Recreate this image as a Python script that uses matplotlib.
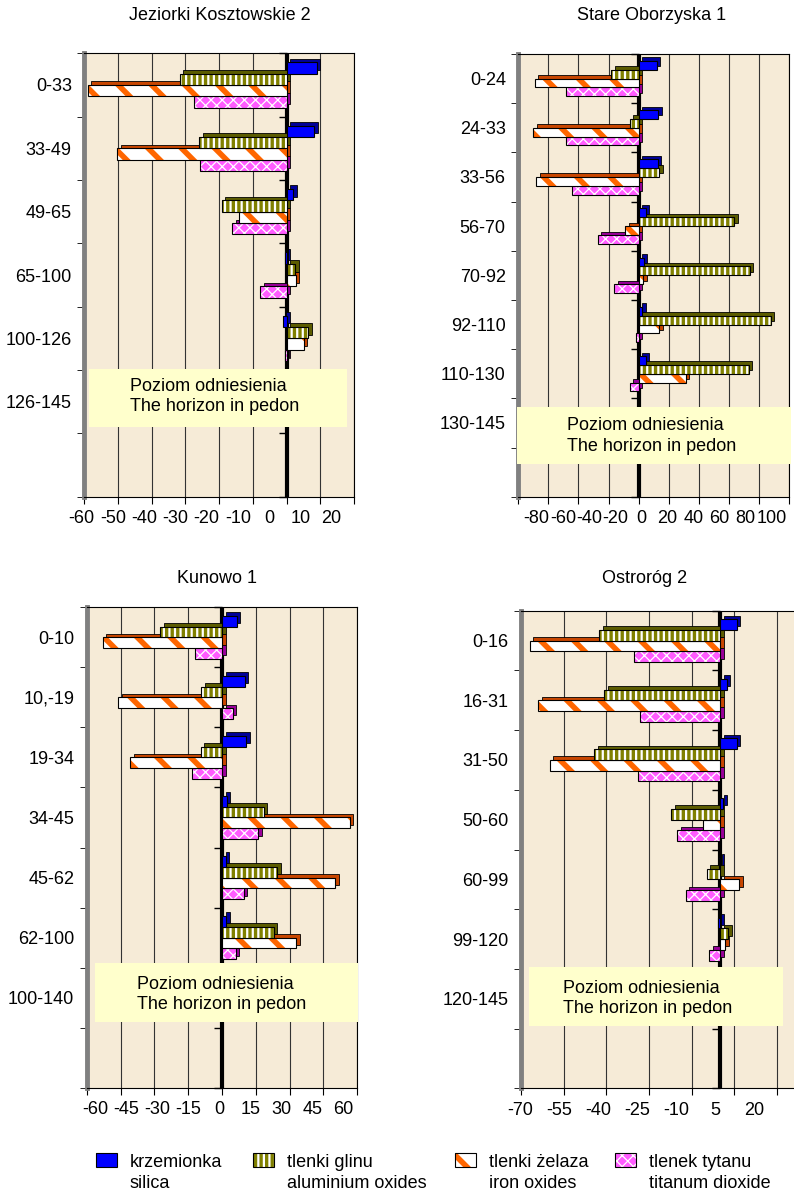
import matplotlib
matplotlib.use("Agg")
import matplotlib.pyplot as plt
import numpy as np
from matplotlib import transforms
from matplotlib.patches import Rectangle

plt.rcParams["font.family"] = ["Liberation Sans", "DejaVu Sans"]
plt.rcParams["font.size"] = 13
plt.rcParams["axes.unicode_minus"] = False

# Jeziorki Kosztowskie 2
jez_depths = ["0-33", "33-49", "49-65", "65-100", "100-126", "126-145", ""]
jez_silica = [9, 8.2, 2, -0.5, -1.2]
jez_alum = [-31.7, -25.9, -19.3, 2.5, 6.4]
jez_iron = [-59, -50.3, -14.1, 2.7, 5.1]
jez_titan = [-27.4, -25.6, -16.1, -7.8, -0.4]

# Stare Oborzyska 1
sta_depths = ["0-24", "24-33", "33-56", "56-70", "70-92", "92-110", "110-130", "130-145", ""]
sta_silica = [12, 13, 12.6, 4.9, 3.3, 2.5, 4.9]
sta_alum = [-18.2, -5.8, 13.7, 63.6, 74, 87.8, 73.4]
sta_iron = [-69, -70, -68, -8.9, 3, 13.7, 31.5]
sta_titan = [-48, -48, -44, -27.3, -16.2, -2, -5.8]

# Kunowo 1
kun_depths = ["0-10", "10,-19", "19-34", "34-45", "45-62", "62-100", "100-140", ""]
kun_silica = [6.6, 10, 10.8, 2.2, 1.6, 1.8]
kun_alum = [-27.3, -9.2, -9.5, 18.5, 24.4, 22.9]
kun_iron = [-52.9, -46, -40.6, 56.6, 50.2, 33]
kun_titan = [-12.1, 4.7, -13.3, 16, 9.6, 6]

# Ostroróg 2
ost_depths = ["0-16", "16-31", "31-50", "50-60", "60-99", "99-120", "120-145", ""]
ost_silica = [5.9, 2.3, 5.9, 1.2, -0.5, -0.8]
ost_alum = [-42.4, -40.7, -44.2, -17.2, -4.6, 2.9]
ost_iron = [-67, -63.9, -59.8, -5.9, 6.8, 1.8]
ost_titan = [-30.1, -28, -29, -15, -12, -3.8]

legend_pl = ["krzemionka", "tlenki glinu", "tlenki żelaza", "tlenek tytanu"]
legend_en = ["silica", "aluminium oxides", "iron oxides", "titanum dioxide"]

# face, hatch, hatch colour, hatch width, side colour
styles = [
    ("#0000FF", None, "#0000FF", 1.0, "#000099"),
    ("#808000", "|||", "#FFFFFF", 1.6, "#5C5C00"),
    ("#FFFFFF", "\\", "#FF6600", 4.0, "#C84600"),
    ("#FF5CFF", "xxx", "#FFFFFF", 0.9, "#990099"),
]

W, H = 794, 1193
fig = plt.figure(figsize=(W / 100, H / 100), dpi=100)


def add_axes(x0, x1, y0, y1):
    return fig.add_axes([x0 / W, 1 - y1 / H, (x1 - x0) / W, (y1 - y0) / H])


def hatched_bars(ax, y, vals, h, j, z):
    face, hatch, hcol, hlw, side = styles[j]
    depth = transforms.offset_copy(ax.transData, fig=fig, x=3.5, y=3.5, units="dots")
    ax.barh(y, vals, height=h, color=side, edgecolor="black", linewidth=0.6,
            transform=depth, zorder=z)
    bars = ax.barh(y, vals, height=h, color=face, edgecolor=hcol, linewidth=0,
                   hatch=hatch, zorder=z + 0.01)
    for b in bars:
        if hasattr(b, "set_hatch_linewidth"):
            b.set_hatch_linewidth(hlw)
    ax.barh(y, vals, height=h, fill=False, edgecolor="black", linewidth=0.8,
            zorder=z + 0.02)


def panel(ax, title, title_x, title_y, depths, series, xmin, xmax, step,
          xlabels, label_span, box, text_xy):
    n = len(depths)
    h = 0.18
    offsets = [-1.5 * h, -0.5 * h, 0.5 * h, 1.5 * h]
    ax.set_facecolor("#F6EBD7")
    ax.axvline(0, color="black", lw=3, zorder=2)
    bounds = np.arange(n + 1) - 0.5
    ax.plot(np.zeros(n + 1), bounds, ls="none", marker=0, ms=6, mew=1,
            color="black", zorder=2, clip_on=False)
    for j in reversed(range(4)):
        vals = series[j]
        y = np.arange(len(vals)) + offsets[j]
        hatched_bars(ax, y, vals, h, j, 3 + (4 - j) * 0.1)

    ax.set_xlim(xmin, xmax)
    ax.set_xticks(np.arange(xmin, xmax + 1, step))
    ax.set_ylim(n - 0.5, -0.5)
    ax.set_yticks(np.arange(n))
    ax.set_yticklabels(depths)
    ax.set_yticks(bounds, minor=True)
    ax.tick_params(axis="y", which="major", length=0, pad=9)
    ax.tick_params(axis="y", which="minor", length=5, direction="out")
    ax.tick_params(axis="x", length=5, direction="out", labelbottom=False)
    ax.set_axisbelow(True)
    ax.grid(axis="x", color="#333333", lw=0.8)
    for s in ["top", "right", "bottom"]:
        ax.spines[s].set_linewidth(0.8)
    ax.spines["left"].set_color("#808080")
    ax.spines["left"].set_linewidth(3.5)

    # value labels sit a little compressed, as in the 3-D original
    lab_trans = transforms.offset_copy(ax.transAxes, fig=fig, y=-22, units="dots")
    for lx, v in zip(np.linspace(label_span[0], label_span[1], len(xlabels)), xlabels):
        ax.text(lx, 0, str(v), transform=lab_trans, ha="center", va="center",
                clip_on=False)

    bx, by, bw, bh = box
    ax.add_patch(Rectangle((bx, by), bw, bh, transform=ax.transAxes,
                           facecolor="#FFFFCC", edgecolor="none", zorder=6, clip_on=False))
    ax.text(text_xy[0], text_xy[1], "Poziom odniesienia\nThe horizon in pedon",
            transform=ax.transAxes, ha="left", va="center", zorder=7, linespacing=1.3)
    fig.text(title_x / W, 1 - title_y / H, title, ha="center", va="baseline")


ax1 = add_axes(84.3, 354, 53.3, 496.7)
panel(ax1, "Jeziorki Kosztowskie 2", 220, 20, jez_depths,
      [jez_silica, jez_alum, jez_iron, jez_titan], -60, 20, 10,
      range(-60, 21, 10), (-0.0096, 0.917),
      (0.0185, 0.158, 0.956, 0.131), (0.17, 0.226))

ax2 = add_axes(518.3, 789, 54, 496.7)
panel(ax2, "Stare Oborzyska 1", 652, 20, sta_depths,
      [sta_silica, sta_alum, sta_iron, sta_titan], -80, 100, 20,
      range(-80, 101, 20), (0.068, 0.936),
      (-0.004, 0.0745, 1.01, 0.129), (0.18, 0.138))

ax3 = add_axes(86.7, 357.3, 607.3, 1087.7)
panel(ax3, "Kunowo 1", 217, 583, kun_depths,
      [kun_silica, kun_alum, kun_iron, kun_titan], -60, 60, 15,
      range(-60, 61, 15), (0.0307, 0.948),
      (0.031, 0.137, 0.972, 0.123), (0.186, 0.194))

ax4 = add_axes(521, 819.5, 610.7, 1088.3)
panel(ax4, "Ostroróg 2", 645, 583, ost_depths,
      [ost_silica, ost_alum, ost_iron, ost_titan], -70, 35, 15,
      range(-70, 21, 15), (-0.0034, 0.7806),
      (0.027, 0.13, 0.851, 0.124), (0.141, 0.188))

# legend
legend_x = [96, 253, 455, 615]
for j, lx in enumerate(legend_x):
    face, hatch, hcol, hlw, side = styles[j]
    p = Rectangle((lx / W, 1 - 1167 / H), 21 / W, 14 / H, transform=fig.transFigure,
                  facecolor=face, edgecolor=hcol, hatch=hatch, linewidth=0)
    if hasattr(p, "set_hatch_linewidth"):
        p.set_hatch_linewidth(hlw)
    fig.patches.append(p)
    fig.patches.append(Rectangle((lx / W, 1 - 1167 / H), 21 / W, 14 / H,
                                 transform=fig.transFigure, fill=False,
                                 edgecolor="black", linewidth=0.8))
    fig.text((lx + 34) / W, 1 - 1167 / H, legend_pl[j], ha="left", va="baseline")
    fig.text((lx + 34) / W, 1 - 1188 / H, legend_en[j], ha="left", va="baseline")

fig.savefig("out.png", dpi=100)
plt.close(fig)
